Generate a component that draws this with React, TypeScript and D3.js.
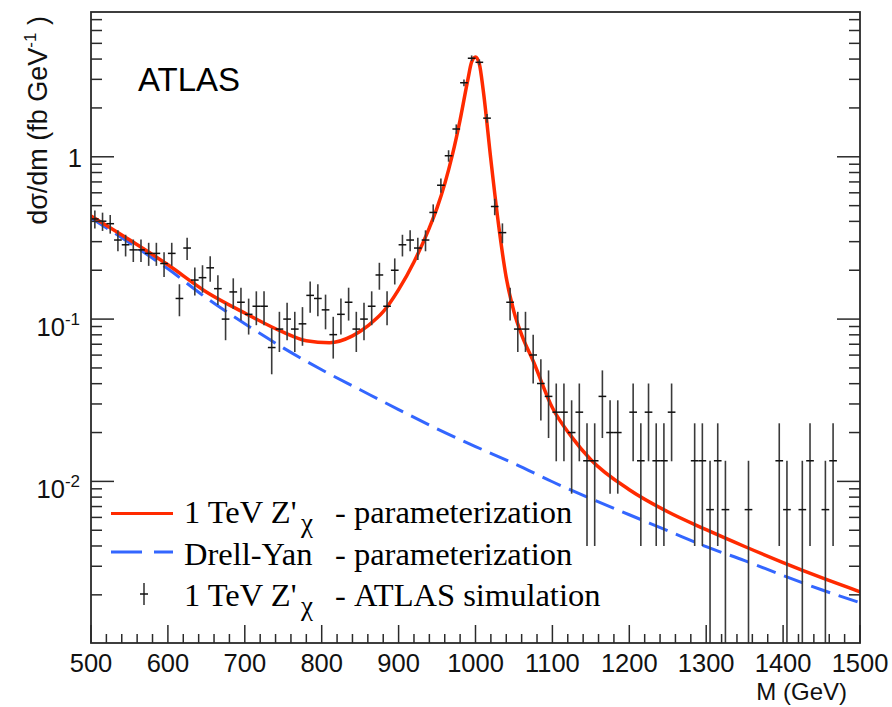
import React, { useRef, useEffect } from "react";
import * as d3 from "d3";

// simulated 1 TeV Z'chi histogram, 10 GeV bins (centres in GeV)
const binCentres = [
  505, 515, 525, 535, 545, 555, 565, 575, 585, 595,
  605, 615, 625, 635, 645, 655, 665, 675, 685, 695,
  705, 715, 725, 735, 745, 755, 765, 775, 785, 795,
  805, 815, 825, 835, 845, 855, 865, 875, 885, 895,
  905, 915, 925, 935, 945, 955, 965, 975, 985, 995,
  1005, 1015, 1025, 1035, 1045, 1055, 1065, 1075, 1085, 1095,
  1105, 1115, 1125, 1135, 1145, 1155, 1165, 1175, 1185, 1195,
  1205, 1215, 1225, 1235, 1245, 1255, 1265, 1275, 1285, 1295,
  1305, 1315, 1325, 1335, 1345, 1355, 1365, 1375, 1385, 1395,
  1405, 1415, 1425, 1435, 1445, 1455, 1465, 1475, 1485, 1495,
];

// dsigma/dm (fb/GeV), 0 = empty bin
const simValues = [
  0.414, 0.401, 0.387, 0.307, 0.287, 0.267, 0.267, 0.254, 0.254, 0.220,
  0.254, 0.134, 0.274, 0.174, 0.180, 0.207, 0.154, 0.100, 0.147, 0.127,
  0.107, 0.120, 0.120, 0.0668, 0.0868, 0.100, 0.0868, 0.0935, 0.140, 0.134,
  0.114, 0.0802, 0.107, 0.127, 0.0868, 0.100, 0.120, 0.187, 0.120, 0.200,
  0.287, 0.307, 0.274, 0.307, 0.454, 0.668, 1.015, 1.483, 2.859, 4.048,
  3.821, 1.730, 0.494, 0.341, 0.127, 0.0868, 0.0868, 0.0601, 0.0401, 0.0334,
  0.0267, 0.0267, 0.0200, 0.0267, 0.0134, 0.0134, 0.0334, 0.0200, 0.0200, 0,
  0.0267, 0.0134, 0.0267, 0.0134, 0.0134, 0.0267, 0, 0, 0.0134, 0.0134,
  0.0067, 0.0134, 0.0067, 0, 0, 0.0067, 0, 0, 0, 0.0134,
  0.0067, 0, 0.0067, 0.0134, 0, 0.0067, 0.0134, 0, 0, 0,
];

const simErrors = [
  0.0526, 0.0517, 0.0509, 0.0453, 0.0438, 0.0423, 0.0423, 0.0412, 0.0412, 0.0384,
  0.0412, 0.0299, 0.0428, 0.0341, 0.0347, 0.0372, 0.0320, 0.0259, 0.0313, 0.0291,
  0.0267, 0.0283, 0.0283, 0.0211, 0.0241, 0.0259, 0.0241, 0.0250, 0.0306, 0.0299,
  0.0275, 0.0231, 0.0267, 0.0291, 0.0241, 0.0259, 0.0283, 0.0353, 0.0283, 0.0366,
  0.0438, 0.0453, 0.0428, 0.0453, 0.0551, 0.0668, 0.0824, 0.0995, 0.1382, 0.1644,
  0.1598, 0.1075, 0.0575, 0.0477, 0.0291, 0.0241, 0.0241, 0.0200, 0.0164, 0.0149,
  0.0134, 0.0134, 0.0116, 0.0134, 0.0094, 0.0094, 0.0149, 0.0116, 0.0116, 0,
  0.0134, 0.0094, 0.0134, 0.0094, 0.0094, 0.0134, 0, 0, 0.0094, 0.0094,
  0.0067, 0.0094, 0.0067, 0, 0, 0.0067, 0, 0, 0, 0.0094,
  0.0067, 0, 0.0067, 0.0094, 0, 0.0067, 0.0094, 0, 0, 0,
];

// Z'chi parameterization curve
const zpMass = [
  500, 550, 600, 650, 700, 750, 780, 810, 840, 860, 880, 900, 920, 940, 950,
  960, 970, 980, 990, 995, 1000, 1005, 1010, 1020, 1030, 1040, 1050, 1060,
  1075, 1100, 1125, 1150, 1200, 1250, 1300, 1350, 1400, 1450, 1500,
];
const zpValues = [
  0.432, 0.308, 0.216, 0.147, 0.109, 0.083, 0.0736, 0.0715, 0.0788, 0.0909,
  0.111, 0.152, 0.225, 0.365, 0.484, 0.681, 1.03, 1.69, 2.98, 3.84, 4.12,
  3.73, 2.58, 0.957, 0.381, 0.18, 0.111, 0.08, 0.0552, 0.0284, 0.0188,
  0.0136, 0.00889, 0.0065, 0.00504, 0.00397, 0.00316, 0.00255, 0.00209,
];

// Drell-Yan parameterization curve
const dyMass = [
  500, 550, 600, 650, 700, 750, 800, 850, 900, 950, 1000,
  1050, 1100, 1150, 1200, 1250, 1300, 1350, 1400, 1450, 1500,
];
const dyValues = [
  0.42, 0.295, 0.204, 0.135, 0.0936, 0.0665, 0.0487, 0.0367, 0.0277, 0.0211,
  0.0164, 0.0129, 0.00995, 0.00782, 0.00623, 0.00497, 0.00396, 0.00325,
  0.00263, 0.00215, 0.00179,
];

// axis ticks
const xMajorTicks = [500, 600, 700, 800, 900, 1000, 1100, 1200, 1300, 1400, 1500];
const xMinorTicks = [
  520, 540, 560, 580, 620, 640, 660, 680, 720, 740, 760, 780, 820, 840, 860, 880,
  920, 940, 960, 980, 1020, 1040, 1060, 1080, 1120, 1140, 1160, 1180, 1220, 1240,
  1260, 1280, 1320, 1340, 1360, 1380, 1420, 1440, 1460, 1480,
];
const yMajorTicks = [0.01, 0.1, 1];
const yMajorLabels = [["10", "-2"], ["10", "-1"], ["1", ""]];
const yMinorTicks = [
  0.002, 0.003, 0.004, 0.005, 0.006, 0.007, 0.008, 0.009,
  0.02, 0.03, 0.04, 0.05, 0.06, 0.07, 0.08, 0.09,
  0.2, 0.3, 0.4, 0.5, 0.6, 0.7, 0.8, 0.9,
  2, 3, 4, 5, 6, 7,
];

const legendItems = [
  { main: "1 TeV Z'", sub: "\u03c7", rest: "- parameterization" },
  { main: "Drell-Yan", sub: "", rest: "- parameterization" },
  { main: "1 TeV Z'", sub: "\u03c7", rest: "- ATLAS simulation" },
];

const RED = "#ff2a00";
const BLUE = "#3366ff";
const SANS = "'Liberation Sans', Arial, sans-serif";
const SERIF = "'Liberation Serif', 'Times New Roman', serif";

const App = () => {
  const svgRef = useRef<SVGSVGElement>(null);

  useEffect(() => {
    const width = 892;
    const height = 707;
    const left = 91, right = 860, top = 12, bottom = 643;

    const svg = d3.select(svgRef.current);
    svg.selectAll("*").remove();
    svg.attr("width", width).attr("height", height);

    const x = d3.scaleLinear().domain([500, 1500]).range([left, right]);
    const y = d3.scaleLog().domain([1.01e-3, 7.8]).range([bottom, top]);

    svg.append("rect").attr("width", width).attr("height", height).attr("fill", "#fff");

    svg.append("defs").append("clipPath").attr("id", "frame-clip")
      .append("rect")
      .attr("x", left).attr("y", top)
      .attr("width", right - left).attr("height", bottom - top);

    const plot = svg.append("g").attr("clip-path", "url(#frame-clip)");

    const line = d3.line<[number, number]>()
      .x(d => x(d[0]))
      .y(d => y(d[1]))
      .curve(d3.curveMonotoneX);

    // Drell-Yan dashed
    plot.append("path")
      .attr("d", line(dyMass.map((m, i) => [m, dyValues[i]] as [number, number])))
      .attr("fill", "none")
      .attr("stroke", BLUE)
      .attr("stroke-width", 3)
      .attr("stroke-dasharray", "20 9");

    // Z' solid
    plot.append("path")
      .attr("d", line(zpMass.map((m, i) => [m, zpValues[i]] as [number, number])))
      .attr("fill", "none")
      .attr("stroke", RED)
      .attr("stroke-width", 3.5)
      .attr("stroke-linejoin", "round");

    // simulated points with error bars
    const pts = binCentres
      .map((m, i) => ({ m, v: simValues[i], e: simErrors[i] }))
      .filter(d => d.v > 0);

    const marks = plot.append("g");
    marks.selectAll("line.err")
      .data(pts)
      .join("line")
      .attr("class", "err")
      .attr("x1", d => x(d.m)).attr("x2", d => x(d.m))
      .attr("y1", d => y(d.v + d.e))
      .attr("y2", d => (d.v - d.e > 1e-6 ? y(d.v - d.e) : bottom))
      .attr("stroke", "#3a3a3a")
      .attr("stroke-width", 1.6);
    marks.selectAll("line.bin")
      .data(pts)
      .join("line")
      .attr("class", "bin")
      .attr("x1", d => x(d.m - 5)).attr("x2", d => x(d.m + 5))
      .attr("y1", d => y(d.v)).attr("y2", d => y(d.v))
      .attr("stroke", "#111")
      .attr("stroke-width", 1.5);

    // frame
    svg.append("rect")
      .attr("x", left).attr("y", top)
      .attr("width", right - left).attr("height", bottom - top)
      .attr("fill", "none")
      .attr("stroke", "#2a2a2a")
      .attr("stroke-width", 1.8);

    const ticks = svg.append("g").attr("stroke", "#2a2a2a").attr("stroke-width", 1.5);

    // x ticks
    ticks.selectAll("line.xmaj").data(xMajorTicks).join("line").attr("class", "xmaj")
      .attr("x1", d => x(d)).attr("x2", d => x(d))
      .attr("y1", bottom).attr("y2", bottom - 18);
    ticks.selectAll("line.xmin").data(xMinorTicks).join("line").attr("class", "xmin")
      .attr("x1", d => x(d)).attr("x2", d => x(d))
      .attr("y1", bottom).attr("y2", bottom - 9);

    // y ticks, left and right
    [[left, 1], [right, -1]].forEach(([x0, dir]) => {
      ticks.append("g").selectAll("line").data(yMajorTicks).join("line")
        .attr("x1", x0).attr("x2", x0 + dir * 23)
        .attr("y1", d => y(d)).attr("y2", d => y(d));
      ticks.append("g").selectAll("line").data(yMinorTicks).join("line")
        .attr("x1", x0).attr("x2", x0 + dir * 11)
        .attr("y1", d => y(d)).attr("y2", d => y(d));
    });

    // x tick labels
    svg.append("g").selectAll("text").data(xMajorTicks).join("text")
      .attr("x", d => x(d)).attr("y", bottom + 29)
      .attr("text-anchor", "middle")
      .attr("font-family", SANS).attr("font-size", 25.5).attr("fill", "#111")
      .text(d => d);

    // y tick labels
    const yl = svg.append("g").selectAll("text").data(yMajorTicks).join("text")
      .attr("x", (d, i) => (yMajorLabels[i][1] ? 80 : 82))
      .attr("y", (d, i) => y(d) + (yMajorLabels[i][1] ? 17 : 10))
      .attr("text-anchor", "end")
      .attr("font-family", SANS).attr("font-size", 25.5).attr("fill", "#111");
    yl.append("tspan").text((d, i) => yMajorLabels[i][0]);
    yl.append("tspan")
      .attr("dy", -11).attr("font-size", 17)
      .text((d, i) => yMajorLabels[i][1]);

    // axis titles
    svg.append("text")
      .attr("x", right - 13).attr("y", 700)
      .attr("text-anchor", "end")
      .attr("font-family", SANS).attr("font-size", 24).attr("fill", "#111")
      .text("M (GeV)");

    const yt = svg.append("text")
      .attr("transform", `translate(47,16) rotate(-90)`)
      .attr("text-anchor", "end")
      .attr("font-family", SANS).attr("font-size", 27).attr("fill", "#111");
    yt.append("tspan").text("d\u03c3/dm (fb GeV");
    yt.append("tspan").attr("dy", -11).attr("font-size", 17).text("-1");
    yt.append("tspan").attr("dy", 11).text(" )");

    // ATLAS label
    svg.append("text")
      .attr("x", 138).attr("y", 91)
      .attr("font-family", SANS).attr("font-size", 33).attr("fill", "#000")
      .text("ATLAS");

    // legend
    const rowBase = [523, 564.5, 606];
    const rowMark = [513.5, 552, 594];
    const legend = svg.append("g");
    legend.append("line")
      .attr("x1", 111).attr("x2", 173).attr("y1", rowMark[0]).attr("y2", rowMark[0])
      .attr("stroke", RED).attr("stroke-width", 2.8);
    legend.append("line")
      .attr("x1", 111).attr("x2", 173).attr("y1", rowMark[1]).attr("y2", rowMark[1])
      .attr("stroke", BLUE).attr("stroke-width", 2.8).attr("stroke-dasharray", "31 12");
    legend.append("line")
      .attr("x1", 144).attr("x2", 144).attr("y1", rowMark[2] - 11).attr("y2", rowMark[2] + 11)
      .attr("stroke", "#3a3a3a").attr("stroke-width", 1.6);
    legend.append("line")
      .attr("x1", 140).attr("x2", 148).attr("y1", rowMark[2]).attr("y2", rowMark[2])
      .attr("stroke", "#111").attr("stroke-width", 1.5);

    legendItems.forEach((item, i) => {
      const t = legend.append("text")
        .attr("font-family", SERIF).attr("font-size", 32.5).attr("fill", "#000");
      t.append("tspan").attr("x", 184).attr("y", rowBase[i]).text(item.main);
      if (item.sub) {
        t.append("tspan").attr("x", 301).attr("y", rowBase[i] + 9).attr("font-size", 27).text(item.sub);
      }
      t.append("tspan").attr("x", 335).attr("y", rowBase[i]).text(item.rest);
    });
  }, []);

  return (
    <svg ref={svgRef} style={{ position: "absolute", left: 0, top: 0, display: "block" }} />
  );
};

export default App;
